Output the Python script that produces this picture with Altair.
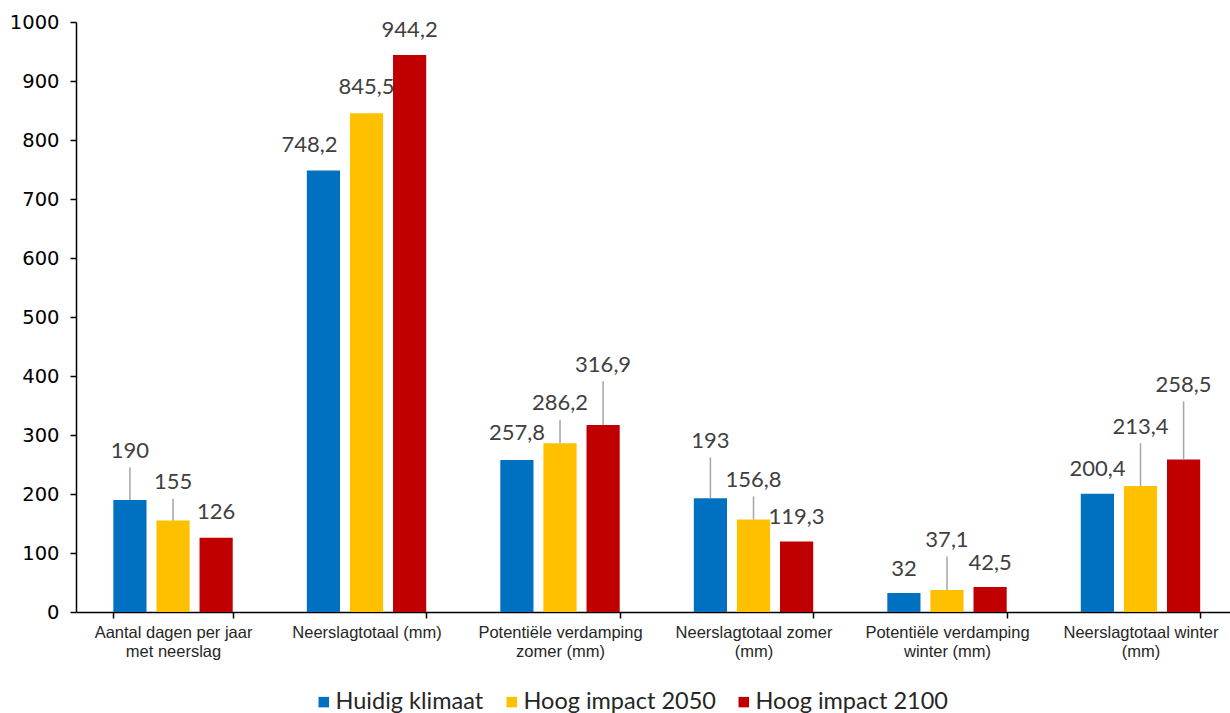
import altair as alt
import pandas as pd

categories = [
    "Aantal dagen per jaar|met neerslag",
    "Neerslagtotaal (mm)",
    "Potentiële verdamping|zomer (mm)",
    "Neerslagtotaal zomer|(mm)",
    "Potentiële verdamping|winter (mm)",
    "Neerslagtotaal winter|(mm)",
]
series = ["Huidig klimaat", "Hoog impact 2050", "Hoog impact 2100"]
colors = ["#0070C0", "#FFC000", "#C00000"]

huidig = [190, 748.2, 257.8, 193, 32, 200.4]
impact_2050 = [155, 845.5, 286.2, 156.8, 37.1, 213.4]
impact_2100 = [126, 944.2, 316.9, 119.3, 42.5, 258.5]

# heights (in data units) where the data labels sit
label_huidig = [273, 791, 303, 290, 73, 242]
label_2050 = [220, 890, 354, 224, 122, 314]
label_2100 = [169, 986, 419, 161, 83, 385]

# whether a leader line connects label and bar
leader_huidig = [1, 0, 0, 1, 0, 0]
leader_2050 = [1, 0, 1, 1, 1, 1]
leader_2100 = [0, 0, 1, 0, 0, 1]

SIDE_CAT = categories[1]
SIDE_SERIES = series[0]

rows = []
for ci, cat in enumerate(categories):
    for s, vals, labs, leads in zip(
        series,
        [huidig, impact_2050, impact_2100],
        [label_huidig, label_2050, label_2100],
        [leader_huidig, leader_2050, leader_2100],
    ):
        rows.append(dict(cat=cat, series=s, value=vals[ci], label_y=labs[ci], leader=leads[ci],
                         side=int(cat == SIDE_CAT and s == SIDE_SERIES)))
df = pd.DataFrame(rows)

x_enc = alt.X(
    "cat:N",
    sort=categories,
    scale=alt.Scale(paddingInner=0.383, paddingOuter=0.1735, align=0.556),
    axis=alt.Axis(
        title=None,
        labelExpr="split(datum.label, '|')",
        labelFont="Liberation Sans",
        labelFontSize=16.5,
        labelColor="#262626",
        labelLineHeight=19,
        labelAngle=0,
        labelLimit=400,
        labelOverlap=False,
        labelPadding=6,
        tickBand="extent",
        tickSize=6,
        tickColor="#000000",
        tickWidth=1.5,
        domainColor="#000000",
        domainWidth=1.5,
    ),
)
xoff_enc = alt.XOffset("series:N", sort=series, scale=alt.Scale(paddingInner=0.23, paddingOuter=0))

y_scale = alt.Scale(domain=[0, 1000], nice=False)

base = alt.Chart(df).encode(x=x_enc, xOffset=xoff_enc)

bars = base.mark_bar().encode(
    y=alt.Y(
        "value:Q",
        scale=y_scale,
        axis=alt.Axis(
            title=None,
            values=list(range(0, 1001, 100)),
            format="d",
            grid=False,
            labelFont="DejaVu Sans",
            labelFontSize=19.5,
            labelFontWeight="normal",
            labelColor="#000000",
            labelPadding=11,
            tickSize=6,
            tickColor="#000000",
            tickWidth=1.5,
            domainColor="#000000",
            domainWidth=1.5,
        ),
    ),
    color=alt.Color(
        "series:N",
        sort=series,
        scale=alt.Scale(domain=series, range=colors),
        legend=alt.Legend(
            title=None,
            orient="none",
            legendX=236,
            legendY=668,
            direction="horizontal",
            symbolType="square",
            symbolSize=110,
            symbolStrokeWidth=0,
            labelFont="Lato",
            labelFontSize=23.5,
            labelColor="#262626",
            labelOffset=0,
            labelLimit=400,
            columnPadding=16,
            padding=0,
        ),
    ),
)

rules = (
    base.transform_filter("datum.leader == 1")
    .transform_calculate(top="datum.label_y - 28")
    .mark_rule(color="#A6A6A6", strokeWidth=1.5)
    .encode(y=alt.Y("value:Q", scale=y_scale), y2="top:Q")
)

text_base = base.transform_calculate(txt="replace(toString(datum.value), '.', ',')")

texts = (
    text_base.transform_filter("datum.side == 0")
    .mark_text(font="Lato", fontSize=22, color="#404040", baseline="middle")
    .encode(y=alt.Y("label_y:Q", scale=y_scale), text="txt:N")
)
side_text = (
    text_base.transform_filter("datum.side == 1")
    .mark_text(font="Lato", fontSize=22, color="#404040", baseline="middle", dx=-14)
    .encode(y=alt.Y("label_y:Q", scale=y_scale), text="txt:N")
)

chart = (
    alt.layer(bars, rules, texts, side_text)
    .properties(
        width=1154,
        height=590,
        autosize="none",
        padding={"left": 76, "top": 22, "right": 0, "bottom": 101},
        background="white",
    )
    .configure_view(stroke=None)
)

chart.save("out.html", embed_options={"renderer": "svg", "actions": False})
